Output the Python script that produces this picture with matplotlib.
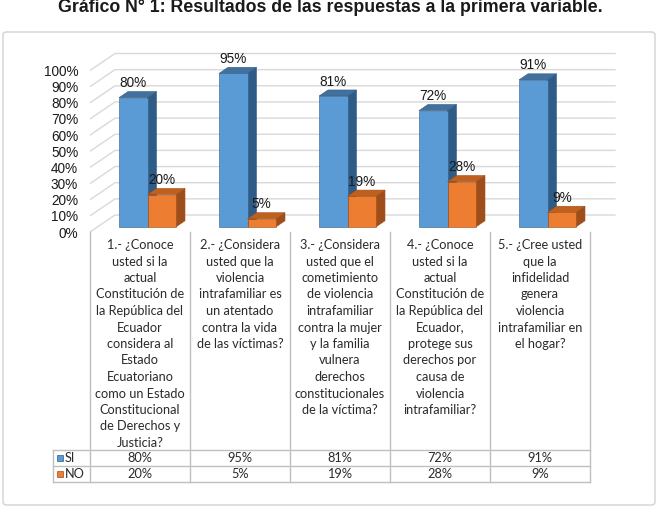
import matplotlib
matplotlib.use("Agg")
import matplotlib.pyplot as plt
from matplotlib.patches import Polygon, FancyBboxPatch
import numpy as np

# datos
preguntas = [
    ["1.- ¿Conoce", "usted si la", "actual", "Constitución de", "la República del",
     "Ecuador", "considera al", "Estado", "Ecuatoriano", "como un Estado",
     "Constitucional", "de Derechos y", "Justicia?"],
    ["2.- ¿Considera", "usted que la", "violencia", "intrafamiliar es",
     "un atentado", "contra la vida", "de las víctimas?"],
    ["3.- ¿Considera", "usted que el", "cometimiento", "de violencia",
     "intrafamiliar", "contra la mujer", "y la familia", "vulnera", "derechos",
     "constitucionales", "de la víctima?"],
    ["4.- ¿Conoce", "usted si la", "actual", "Constitución de", "la República del",
     "Ecuador,", "protege sus", "derechos por", "causa de", "violencia",
     "intrafamiliar?"],
    ["5.- ¿Cree usted", "que la", "infidelidad", "genera", "violencia",
     "intrafamiliar en", "el hogar?"],
]
si = [0.80, 0.95, 0.81, 0.72, 0.91]
no = [0.20, 0.05, 0.19, 0.28, 0.09]
series = ["SI", "NO"]
y_ticks = [0.0, 0.1, 0.2, 0.3, 0.4, 0.5, 0.6, 0.7, 0.8, 0.9, 1.0]
titulo = "Gráfico N° 1: Resultados de las respuestas a la primera variable."

# colores: frente, lado, tapa
colores = {
    "SI": ("#5b9bd5", "#2f5b87", "#41719c"),
    "NO": ("#ed7d31", "#9e4e1a", "#c0601f"),
}
grid_color = "#d9d9d9"
table_line = "#bfbfbf"
fuente_tabla = ["Lato", "DejaVu Sans"]
fuente_ejes = ["Liberation Sans", "DejaVu Sans"]

W, H = 660, 512
fig = plt.figure(figsize=(W / 100, H / 100), dpi=100)

# marco exterior
marco = FancyBboxPatch((3 / W, 7 / H), 652 / W, 473 / H,
                       boxstyle="round,pad=0,rounding_size=0.006",
                       transform=fig.transFigure, facecolor="none",
                       edgecolor=grid_color, lw=1.2, zorder=-1)
fig.add_artist(marco)

fig.text(0.5, 1 - 12.5 / H, titulo, ha="center", va="baseline", fontsize=12.8,
         fontweight="bold", family=fuente_ejes, color="#1a1a1a")

# ejes principales (plano frontal): x en categorias, y en fraccion
px_x, px_y = 100.0, 161.5
x0_px, y0_px = 90, 232
xmax, ymax = 5.3, 1.25
ax = fig.add_axes([x0_px / W, (H - y0_px) / H, xmax * px_x / W, ymax * px_y / H])
ax.set_xlim(0, xmax)
ax.set_ylim(0, ymax)
ax.set_facecolor("none")
for s in ax.spines.values():
    s.set_visible(False)
ax.set_xticks([])
ax.set_yticks(y_ticks)
ax.set_yticklabels([f"{int(round(t * 100))}%" for t in y_ticks])
ax.tick_params(axis="y", length=0, pad=8.5, labelsize=9.8)
for lab in ax.get_yticklabels():
    lab.set_family(fuente_ejes)
    lab.set_color("#1a1a1a")

DX, DY = 0.25, 17 / px_y


def proj(x, v, z):
    return (x + z * DX, v + z * DY)


n = len(si)
# pared de fondo y pared izquierda
for t in y_ticks:
    xs, ys = zip(proj(0, t, 0), proj(0, t, 1), proj(n, t, 1))
    ax.plot(xs, ys, color=grid_color, lw=1, zorder=1)

bw = 0.285
z0, z1 = 0.3, 0.66


def barra(x_izq, v, col):
    frente, lado, tapa = col
    pts_f = [proj(x_izq, 0, z0), proj(x_izq + bw, 0, z0),
             proj(x_izq + bw, v, z0), proj(x_izq, v, z0)]
    pts_l = [proj(x_izq + bw, 0, z0), proj(x_izq + bw, 0, z1),
             proj(x_izq + bw, v, z1), proj(x_izq + bw, v, z0)]
    pts_t = [proj(x_izq, v, z0), proj(x_izq + bw, v, z0),
             proj(x_izq + bw, v, z1), proj(x_izq, v, z1)]
    for pts, c in ((pts_l, lado), (pts_t, tapa), (pts_f, frente)):
        ax.add_patch(Polygon(pts, closed=True, facecolor=c, edgecolor=lado,
                             lw=0.4, zorder=3))


for i in range(n):
    for j, (nombre, vals) in enumerate(zip(series, [si, no])):
        x_izq = i + 0.5 - bw + j * bw
        barra(x_izq, vals[i], colores[nombre])
        yc = proj(0, vals[i], z1)[1]
        xc = proj(x_izq + bw / 2, 0, z0)[0]
        ax.annotate(f"{int(round(vals[i] * 100))}%", (xc, yc),
                    xytext=(0, 1.0), textcoords="offset points",
                    ha="center", va="bottom", fontsize=9.8,
                    family=fuente_ejes, color="#1a1a1a", zorder=5)

# tabla de datos
leg_w = 0.37
tx = fig.add_axes([(x0_px - leg_w * px_x) / W, (H - 482) / H,
                   (n + leg_w) * px_x / W, 250 / H])
tx.set_xlim(-leg_w, n)
tx.set_ylim(250, 0)
tx.axis("off")

for k in range(n + 1):
    tx.plot([k, k], [0, 250], color=table_line, lw=1, clip_on=False)
tx.plot([-leg_w, -leg_w], [218, 250], color=table_line, lw=1, clip_on=False)
for yy in (218, 234, 250):
    tx.plot([-leg_w, n], [yy, yy], color=table_line, lw=1, clip_on=False)

for i, lineas in enumerate(preguntas):
    for k, linea in enumerate(lineas):
        tx.text(i + 0.5, 13 + 16.5 * k, linea, ha="center", va="center",
                fontsize=9.2, family=fuente_tabla, color="#2b2b2b")

for j, (nombre, vals) in enumerate(zip(series, [si, no])):
    yy = 226 + 16 * j
    tx.plot([-leg_w + 0.07], [yy], marker="s", markersize=4.8,
            color=colores[nombre][0], markeredgecolor=colores[nombre][1],
            markeredgewidth=0.5, clip_on=False)
    tx.text(-leg_w + 0.12, yy, nombre, ha="left", va="center", fontsize=9.2,
            family=fuente_tabla, color="#2b2b2b")
    for i in range(n):
        tx.text(i + 0.5, yy, f"{int(round(vals[i] * 100))}%", ha="center",
                va="center", fontsize=9.2, family=fuente_tabla, color="#2b2b2b")

fig.savefig("out.png", dpi=100)
